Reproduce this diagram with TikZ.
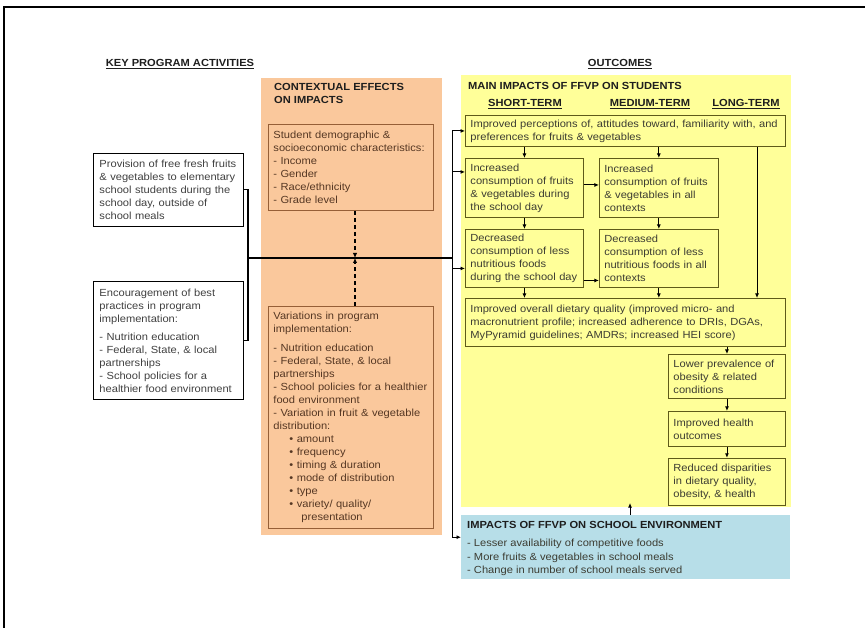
\documentclass[tikz,border=0pt]{standalone}
\usepackage{fontspec}
\setmainfont{Liberation Sans}[FakeStretch=1.08]
\usetikzlibrary{positioning}
\usetikzlibrary{arrows.meta}
\definecolor{ctxfill}{RGB}{250,200,156}
\definecolor{ctxline}{RGB}{150,95,55}
\definecolor{ctxtext}{RGB}{85,55,35}
\definecolor{outfill}{RGB}{255,255,153}
\definecolor{outline}{RGB}{95,90,25}
\definecolor{outtext}{RGB}{60,60,50}
\definecolor{envfill}{RGB}{183,222,232}
\definecolor{actgrey}{RGB}{64,64,64}
\definecolor{headtext}{RGB}{30,30,30}
\newcommand{\boxfont}{\fontsize{10.3}{13}\selectfont}
\newcommand{\bul}[1]{\hspace*{16pt}\textbullet\ #1}

\begin{document}
\begin{tikzpicture}[x=1pt,y=-1pt,
  panel/.style={fill=#1, draw=none, anchor=north west, inner sep=0pt},
  actbox/.style={draw=black, line width=0.9pt, fill=white, text=actgrey, font=\boxfont,
                 align=left, anchor=north west, inner xsep=6pt, inner ysep=3pt, text width=#1},
  ctxbox/.style={actbox=#1, draw=ctxline, fill=ctxfill, text=ctxtext, inner xsep=5pt},
  outbox/.style={actbox=#1, draw=outline, fill=outfill, text=outtext, inner xsep=5pt},
  heading/.style={font=\boxfont\bfseries, text=headtext, inner sep=0pt},
  link/.style={line width=1.1pt},
  arr/.style={line width=0.9pt, -{Latex[length=4.5pt,width=4pt]}},
  modarr/.style={line width=1.3pt, dash pattern=on 4pt off 3pt, -{Latex[length=5pt,width=4.5pt]}}]
\useasboundingbox (0,0) rectangle (865,628);
\draw[line width=1.2pt] (4,628) -- (4,7) -- (865,7);

% Panels
\node[panel=ctxfill, minimum width=181pt, minimum height=457pt] (ctxpanel) at (261,78) {};
\node[panel=outfill, minimum width=330pt, minimum height=432pt] (mainpanel) at (461,75) {};
\node[panel=envfill, minimum width=329pt, minimum height=64pt]  (envpanel) at (461,515) {};

% Headings
\node[heading] (kpa)  at (180,64) {\underline{KEY PROGRAM ACTIVITIES}};
\node[heading] (outc) at (620,64) {\underline{OUTCOMES}};
\node[heading, anchor=north west, align=left] (ctxtitle) at (274,83) {CONTEXTUAL EFFECTS\\ON IMPACTS};
\node[heading, anchor=west] (maintitle) at (468,86) {MAIN IMPACTS OF FFVP ON STUDENTS};
\node[heading] (shortt) at (525,104) {\underline{SHORT-TERM}};
\node[heading] (mediumt) at (650,104) {\underline{MEDIUM-TERM}};
\node[heading] (longt) at (746,104) {\underline{LONG-TERM}};
\node[heading, anchor=west] (envtitle) at (467,525) {IMPACTS OF FFVP ON SCHOOL ENVIRONMENT};
\node[heading, font=\fontsize{10.3}{13.5}\selectfont, text=outtext, anchor=north west, align=left] (envlist) at (467,539)
  {- Lesser availability of competitive foods\\- More fruits \& vegetables in school meals\\- Change in number of school meals served};

% Activities
\node[actbox=138pt, minimum height=73pt] (prov) at (93,153)
  {Provision of free fresh fruits\\\& vegetables to elementary\\school students during the\\school day, outside of\\school meals};
\node[actbox=138pt, minimum height=118pt] (practice) at (93,281)
  {Encouragement of best\\practices in program\\implementation:\\[5pt]- Nutrition education\\- Federal, State, \& local\\partnerships\\- School policies for a\\healthier food environment};

% Contextual effects
\node[ctxbox=155pt, minimum height=86pt] (demog) at (268,124)
  {Student demographic \&\\socioeconomic characteristics:\\- Income\\- Gender\\- Race/ethnicity\\- Grade level};
\node[ctxbox=155pt, minimum height=222pt] (vari) at (268,306)
  {Variations in program\\implementation:\\[6pt]- Nutrition education\\- Federal, State, \& local\\partnerships\\\mbox{- School policies for a healthier}\\food environment\\- Variation in fruit \& vegetable\\distribution:\\\bul{amount}\\\bul{frequency}\\\bul{timing \& duration}\\\bul{mode of distribution}\\\bul{type}\\\bul{variety/ quality/}\\\hspace*{28pt}presentation};

% Outcomes
\node[outbox=310pt, minimum height=31pt] (percep) at (465,115)
  {Improved perceptions of, attitudes toward, familiarity with, and\\preferences for fruits \& vegetables};
\node[outbox=108pt, minimum height=59pt] (inc1) at (465,158)
  {Increased\\consumption of fruits\\\& vegetables during\\the school day};
\node[outbox=109pt, minimum height=59pt, right=15pt of inc1] (inc2)
  {Increased\\consumption of fruits\\\& vegetables in all\\contexts};
\node[outbox=108pt, minimum height=58pt] (dec1) at (465,229)
  {Decreased\\consumption of less\\nutritious foods\\during the school day};
\node[outbox=109pt, minimum height=58pt, right=15pt of dec1] (dec2)
  {Decreased\\consumption of less\\nutritious foods in all\\contexts};
\node[outbox=310pt, minimum height=48pt] (diet) at (465,298)
  {Improved overall dietary quality (improved micro- and\\macronutrient profile; increased adherence to DRIs, DGAs,\\MyPyramid guidelines; AMDRs; increased HEI score)};
\node[outbox=107pt, minimum height=44pt] (obes) at (668,354)
  {Lower prevalence of\\obesity \& related\\conditions};
\node[outbox=107pt, minimum height=35pt, below=12pt of obes] (health)
  {Improved health\\outcomes};
\node[outbox=107pt, minimum height=47pt, below=11pt of health] (dispar)
  {Reduced disparities\\in dietary quality,\\obesity, \& health};

% Edges
\coordinate (jn)  at (248,258);
\coordinate (bus) at (452,258);
\coordinate (mod) at (355,258);
\coordinate (lt)  at (757,0);
\coordinate (up)  at (630,503);
\draw[link] (prov.east) -| (jn) |- (practice.east);
\draw[link] (jn) -- (bus);
\draw[modarr] (demog.south -| mod) -- (mod);
\draw[modarr] (vari.north -| mod) -- (mod);
\draw[arr] (bus) |- (percep.west);
\draw[arr] (bus) |- ([yshift=16pt]inc1.west);
\draw[arr] (bus) |- ([yshift=-10pt]dec1.west);
\draw[arr] (bus) |- ([yshift=10pt]envpanel.west);
\draw[arr] (percep.south -| inc1.north) -- (inc1.north);
\draw[arr] (percep.south -| inc2.north) -- (inc2.north);
\draw[arr] (percep.south -| lt) -- (diet.north -| lt);
\draw[arr] ([yshift=3pt]inc1.east) -- ([yshift=3pt]inc2.west);
\draw[arr] (inc1.south) -- (dec1.north);
\draw[arr] (inc2.south) -- (dec2.north);
\draw[arr] ([yshift=-22pt]dec1.east) -- ([yshift=-22pt]dec2.west);
\draw[arr] (dec1.south) -- (dec1.south |- diet.north);
\draw[arr] (dec2.south) -- (dec2.south |- diet.north);
\draw[arr] (diet.south -| obes.north) -- (obes.north);
\draw[arr] (obes.south) -- (health.north);
\draw[arr] (health.south) -- (dispar.north);
\draw[arr] (envpanel.north -| up) -- (up);
\end{tikzpicture}
\end{document}
